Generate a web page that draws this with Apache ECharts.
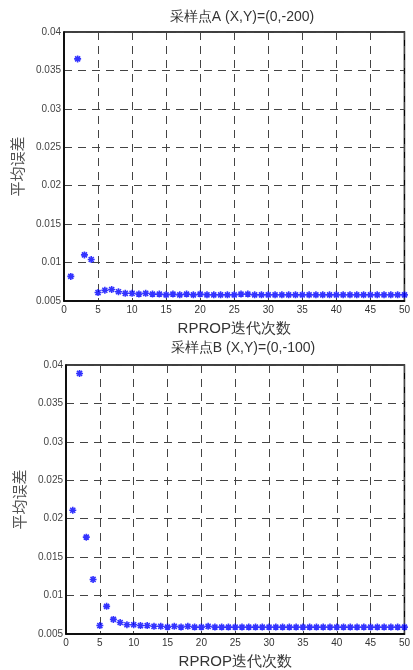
<!DOCTYPE html>
<html><head><meta charset="utf-8">
<script src="https://cdn.jsdelivr.net/npm/echarts@6/dist/echarts.min.js"></script>
<style>html,body{margin:0;padding:0;background:#fff}#c{width:413px;height:670px}</style>
</head><body><div id="c"></div>
<script>
const iterations = Array.from({length: 50}, (_, i) => i + 1);
const xTicks = [0, 5, 10, 15, 20, 25, 30, 35, 40, 45, 50];
const yTicks = [0.005, 0.01, 0.015, 0.02, 0.025, 0.03, 0.035, 0.04];
const titleA = '采样点A (X,Y)=(0,-200)';
const titleB = '采样点B (X,Y)=(0,-100)';
const xName = 'RPROP迭代次数';
const yName = '平均误差';
const errorA = [0.0082, 0.0365, 0.0110, 0.0104, 0.0061, 0.0064, 0.0065, 0.0062, 0.0060, 0.0060,
  0.0059, 0.0060, 0.0059, 0.0059, 0.0058, 0.0059, 0.0058, 0.0059, 0.0058, 0.0059,
  0.0058, 0.0058, 0.0058, 0.0058, 0.0058, 0.0059, 0.0059, 0.0058, 0.0058, 0.0058,
  0.0058, 0.0058, 0.0058, 0.0058, 0.0058, 0.0058, 0.0058, 0.0058, 0.0058, 0.0058,
  0.0058, 0.0058, 0.0058, 0.0058, 0.0058, 0.0058, 0.0058, 0.0058, 0.0058, 0.0058];
const errorB = [0.0211, 0.0389, 0.0176, 0.0121, 0.0061, 0.0086, 0.0069, 0.0065, 0.0062, 0.0062,
  0.0061, 0.0061, 0.0060, 0.0060, 0.0059, 0.0060, 0.0059, 0.0060, 0.0059, 0.0059,
  0.0060, 0.0059, 0.0059, 0.0059, 0.0059, 0.0059, 0.0059, 0.0059, 0.0059, 0.0059,
  0.0059, 0.0059, 0.0059, 0.0059, 0.0059, 0.0059, 0.0059, 0.0059, 0.0059, 0.0059,
  0.0059, 0.0059, 0.0059, 0.0059, 0.0059, 0.0059, 0.0059, 0.0059, 0.0059, 0.0059];

const FONT = '"Liberation Sans", Arial, sans-serif';
const star = 'path://M0,-5L0,5M-5,0L5,0M-3.6,-3.6L3.6,3.6M-3.6,3.6L3.6,-3.6';
const gridLine = {show: true, lineStyle: {color: '#444', type: [8, 6], width: 1}};

function xAxis(gi) {
  return {
    type: 'value', gridIndex: gi, min: 0, max: 50, interval: 5,
    axisLine: {show: true, onZero: false, lineStyle: {color: '#000', width: 1.5}},
    axisTick: {show: false},
    axisLabel: {color: '#333', fontFamily: FONT, fontSize: 10, margin: 4},
    splitLine: gridLine,
    name: xName, nameLocation: 'middle', nameGap: 20,
    nameTextStyle: {color: '#333', fontFamily: FONT, fontSize: 15}
  };
}
function yAxis(gi) {
  return {
    type: 'value', gridIndex: gi, min: 0.005, max: 0.04, interval: 0.005,
    axisLine: {show: true, onZero: false, lineStyle: {color: '#000', width: 1.5}},
    axisTick: {show: false},
    axisLabel: {color: '#444', fontFamily: FONT, fontSize: 10, margin: 3,
      formatter: v => String(+v.toFixed(3))},
    splitLine: gridLine,
    name: yName, nameLocation: 'middle', nameGap: 38, nameRotate: 90,
    nameTextStyle: {color: '#555', fontFamily: '"Noto Sans CJK SC", sans-serif', fontSize: 15}
  };
}
function series(gi, data) {
  return {
    type: 'scatter', xAxisIndex: gi, yAxisIndex: gi,
    data: iterations.map((x, i) => [x, data[i]]),
    symbol: star, symbolSize: 7,
    itemStyle: {color: '#0000ff', borderColor: '#0000ff', borderWidth: 1.6},
    silent: true, animation: false
  };
}

const chart = echarts.init(document.getElementById('c'), null, {renderer: 'canvas'});
chart.setOption({
  animation: false,
  backgroundColor: '#fff',
  title: [
    {text: titleA, left: 237, top: 5, textAlign: 'center',
      textStyle: {color: '#333', fontFamily: FONT, fontSize: 14, fontWeight: 'normal'}},
    {text: titleB, left: 238, top: 336, textAlign: 'center',
      textStyle: {color: '#333', fontFamily: FONT, fontSize: 14, fontWeight: 'normal'}}
  ],
  grid: [
    {left: 64, top: 32, width: 346, height: 269, show: true, borderColor: '#000', borderWidth: 1.5},
    {left: 66, top: 365, width: 345, height: 270, show: true, borderColor: '#000', borderWidth: 1.5}
  ],
  xAxis: [xAxis(0), xAxis(1)],
  yAxis: [yAxis(0), yAxis(1)],
  series: [series(0, errorA), series(1, errorB)]
});
</script></body></html>
